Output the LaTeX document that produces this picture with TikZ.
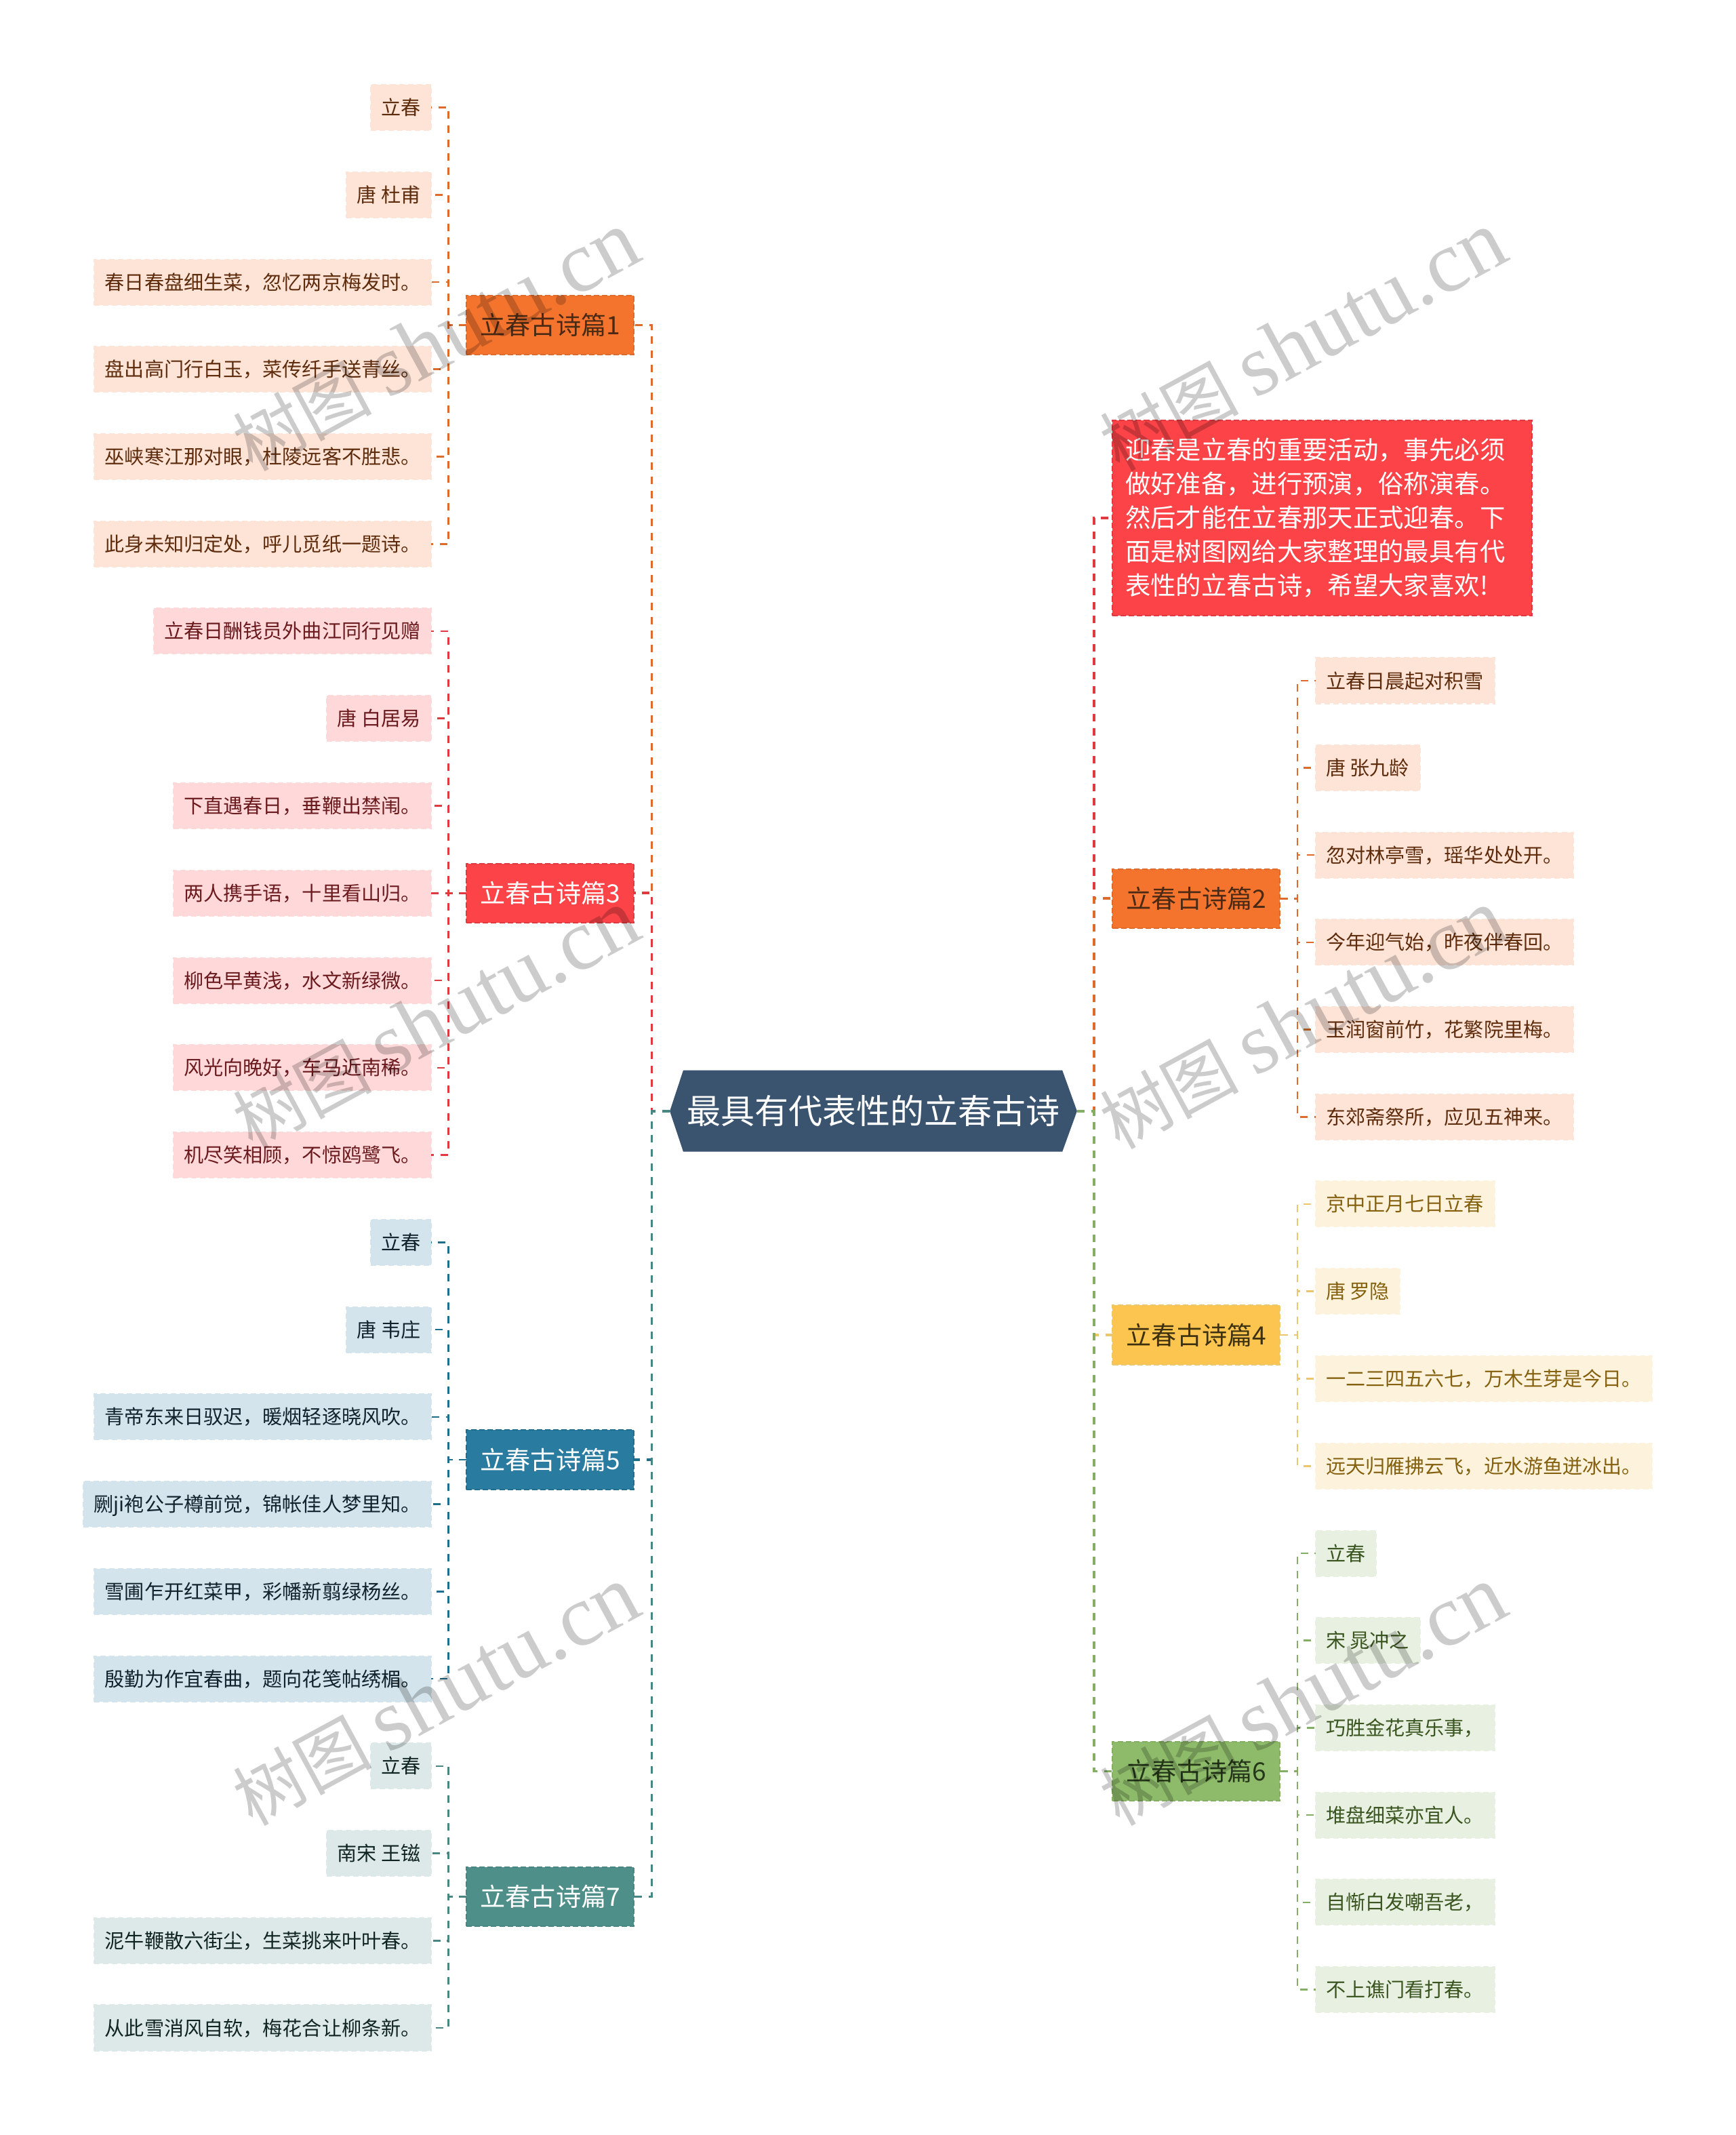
\documentclass[tikz,border=0pt]{standalone}
\usepackage{fontspec}
\setmainfont{Noto Sans CJK SC}
\newfontfamily\wmlatin{Liberation Serif}
\definecolor{oF}{HTML}{F4742E}\definecolor{oD}{HTML}{DE6A2C}\definecolor{oL}{HTML}{FDE4D7}\definecolor{oT}{HTML}{5E2C0C}\definecolor{oB}{HTML}{4A2A14}
\definecolor{rF}{HTML}{FB4348}\definecolor{rD}{HTML}{E03A40}\definecolor{rL}{HTML}{FFD9DA}\definecolor{rT}{HTML}{6B1A1E}
\definecolor{bF}{HTML}{2A7BA0}\definecolor{bD}{HTML}{1F6E8E}\definecolor{bL}{HTML}{D3E4EC}\definecolor{bT}{HTML}{10222C}
\definecolor{tF}{HTML}{4F8F8A}\definecolor{tD}{HTML}{478681}\definecolor{tL}{HTML}{DCE9E8}\definecolor{tT}{HTML}{102422}
\definecolor{yF}{HTML}{FBC54F}\definecolor{yD}{HTML}{EBC66C}\definecolor{yL}{HTML}{FDF3DC}\definecolor{yT}{HTML}{85600F}\definecolor{yB}{HTML}{3E3110}
\definecolor{gF}{HTML}{8DBB6A}\definecolor{gD}{HTML}{84AE64}\definecolor{gL}{HTML}{E8F1E1}\definecolor{gT}{HTML}{3A5520}\definecolor{gB}{HTML}{26361A}
\definecolor{rootF}{HTML}{3A546F}
\tikzset{
 every node/.style={outer sep=0pt},
 leafbox/.style={minimum height=33.4,inner xsep=7.7,inner ysep=0,text height=12.7,text depth=1.7,
   font=\fontsize{14.5}{17}\selectfont,line width=1,dash pattern=on 4 off 2.5},
 lleaf/.style={leafbox,anchor=east},
 rleaf/.style={leafbox,anchor=west},
 leafo/.style={fill=oL,draw=oL,text=oT},
 leafr/.style={fill=rL,draw=rL,text=rT},
 leafb/.style={fill=bL,draw=bL,text=bT},
 leaft/.style={fill=tL,draw=tL,text=tT},
 leafy/.style={fill=yL,draw=yL,text=yT},
 leafg/.style={fill=gL,draw=gL,text=gT},
 branchbox/.style={minimum width=123,minimum height=43.5,inner sep=0,text height=16.2,text depth=2.2,
   font=\fontsize{18.5}{22}\selectfont,line width=1,dash pattern=on 4 off 2},
 main/.style={line width=1.8,dash pattern=on 5.5 off 4.8},
 sub/.style={line width=1.3,dash pattern=on 5.5 off 4.8},
 wmark/.style={rotate=28.5,text=black,text opacity=.2,inner sep=0},
}
\begin{document}
\begin{tikzpicture}[x=1pt,y=-1pt]
\useasboundingbox[fill=white] (0,0) rectangle (1275,1568.3);
% root hexagon
\fill[rootF] (492.1,816.2) -- (502,786.2) -- (780.5,786.2) -- (791.3,816.2) -- (780.5,846) -- (502,846) -- cycle;
\node[minimum width=299.2,minimum height=59.8,inner sep=0,text=white,text height=21.8,text depth=3,font=\fontsize{24.9}{30}\selectfont] (root) at (641.7,816.2) {最具有代表性的立春古诗};
% branches left
\node[branchbox,fill=oF,draw=oD,text=oB] (b1) at (404.3,238.8) {立春古诗篇1};
\node[branchbox,fill=rF,draw=rD,text=white] (b3) at (404.3,656) {立春古诗篇3};
\node[branchbox,fill=bF,draw=bD,text=white] (b5) at (404.3,1072.3) {立春古诗篇5};
\node[branchbox,fill=tF,draw=tD,text=white] (b7) at (404.3,1393.3) {立春古诗篇7};
% branches right
\node[branchbox,fill=oF,draw=oD,text=oB] (b2) at (879,660) {立春古诗篇2};
\node[branchbox,fill=yF,draw=yD,text=yB] (b4) at (879,980.6) {立春古诗篇4};
\node[branchbox,fill=gF,draw=gD,text=gB] (b6) at (879,1301) {立春古诗篇6};
% intro
\node[fill=rF,draw=rD,line width=1,dash pattern=on 4 off 2,text=white,text width=289.2,align=left,inner xsep=9.4,inner ysep=0,minimum height=143,font=\fontsize{18.6}{24.9}\selectfont] (intro) at (971.4,380.5) {迎春是立春的重要活动，事先必须\\做好准备，进行预演，俗称演春。\\然后才能在立春那天正式迎春。下\\面是树图网给大家整理的最具有代\\表性的立春古诗，希望大家喜欢!};
% left leaves
\node[lleaf,leafo] (a1) at (316.8,79) {立春};
\node[lleaf,leafo] (a2) at (316.8,143.1) {唐 杜甫};
\node[lleaf,leafo] (a3) at (316.8,207.2) {春日春盘细生菜，忽忆两京梅发时。};
\node[lleaf,leafo] (a4) at (316.8,271.3) {盘出高门行白玉，菜传纤手送青丝。};
\node[lleaf,leafo] (a5) at (316.8,335.4) {巫峡寒江那对眼，杜陵远客不胜悲。};
\node[lleaf,leafo] (a6) at (316.8,399.6) {此身未知归定处，呼儿觅纸一题诗。};
\node[lleaf,leafr] (c1) at (316.8,463.6) {立春日酬钱员外曲江同行见赠};
\node[lleaf,leafr] (c2) at (316.8,527.8) {唐 白居易};
\node[lleaf,leafr] (c3) at (316.8,591.9) {下直遇春日，垂鞭出禁闱。};
\node[lleaf,leafr] (c4) at (316.8,656) {两人携手语，十里看山归。};
\node[lleaf,leafr] (c5) at (316.8,720.2) {柳色早黄浅，水文新绿微。};
\node[lleaf,leafr] (c6) at (316.8,784.3) {风光向晚好，车马近南稀。};
\node[lleaf,leafr] (c7) at (316.8,848.4) {机尽笑相顾，不惊鸥鹭飞。};
\node[lleaf,leafb] (e1) at (316.8,912.6) {立春};
\node[lleaf,leafb] (e2) at (316.8,976.7) {唐 韦庄};
\node[lleaf,leafb] (e3) at (316.8,1040.8) {青帝东来日驭迟，暖烟轻逐晓风吹。};
\node[lleaf,leafb] (e4) at (316.8,1104.9) {劂ji袍公子樽前觉，锦帐佳人梦里知。};
\node[lleaf,leafb] (e5) at (316.8,1169) {雪圃乍开红菜甲，彩幡新翦绿杨丝。};
\node[lleaf,leafb] (e6) at (316.8,1233.2) {殷勤为作宜春曲，题向花笺帖绣楣。};
\node[lleaf,leaft] (g1) at (316.8,1297.3) {立春};
\node[lleaf,leaft] (g2) at (316.8,1361.4) {南宋 王镃};
\node[lleaf,leaft] (g3) at (316.8,1425.5) {泥牛鞭散六街尘，生菜挑来叶叶春。};
\node[lleaf,leaft] (g4) at (316.8,1489.6) {从此雪消风自软，梅花合让柳条新。};
% right leaves
\node[rleaf,leafo] (d1) at (966.5,500) {立春日晨起对积雪};
\node[rleaf,leafo] (d2) at (966.5,564.1) {唐 张九龄};
\node[rleaf,leafo] (d3) at (966.5,628.1) {忽对林亭雪，瑶华处处开。};
\node[rleaf,leafo] (d4) at (966.5,692.2) {今年迎气始，昨夜伴春回。};
\node[rleaf,leafo] (d5) at (966.5,756.3) {玉润窗前竹，花繁院里梅。};
\node[rleaf,leafo] (d6) at (966.5,820.4) {东郊斋祭所，应见五神来。};
\node[rleaf,leafy] (f1) at (966.5,884.4) {京中正月七日立春};
\node[rleaf,leafy] (f2) at (966.5,948.5) {唐 罗隐};
\node[rleaf,leafy] (f3) at (966.5,1012.8) {一二三四五六七，万木生芽是今日。};
\node[rleaf,leafy] (f4) at (966.5,1076.9) {远天归雁拂云飞，近水游鱼迸冰出。};
\node[rleaf,leafg] (h1) at (966.5,1141) {立春};
\node[rleaf,leafg] (h2) at (966.5,1205.1) {宋 晁冲之};
\node[rleaf,leafg] (h3) at (966.5,1269.2) {巧胜金花真乐事，};
\node[rleaf,leafg] (h4) at (966.5,1333.3) {堆盘细菜亦宜人。};
\node[rleaf,leafg] (h5) at (966.5,1397.4) {自惭白发嘲吾老，};
\node[rleaf,leafg] (h6) at (966.5,1461.5) {不上谯门看打春。};
% main connectors
\draw[main,oD] (root.west) -- ++(-13.2,0) |- (b1.east);
\draw[main,rD] (root.west) -- ++(-13.2,0) |- (b3.east);
\draw[main,bD] (root.west) -- ++(-13.2,0) |- (b5.east);
\draw[main,tD] (root.west) -- ++(-13.2,0) |- (b7.east);
\draw[main,rD] (root.east) -- ++(12.4,0) |- (intro.west);
\draw[main,oD] (root.east) -- ++(12.4,0) |- (b2.west);
\draw[main,yD] (root.east) -- ++(12.4,0) |- (b4.west);
\draw[main,gD] (root.east) -- ++(12.4,0) |- (b6.west);
% leaf connectors
\foreach \n in {a1,a2,a3,a4,a5,a6} \draw[sub,oD] (b1.west) -- ++(-13.3,0) |- (\n.east);
\foreach \n in {c1,c2,c3,c4,c5,c6,c7} \draw[sub,rD] (b3.west) -- ++(-13.3,0) |- (\n.east);
\foreach \n in {e1,e2,e3,e4,e5,e6} \draw[sub,bD] (b5.west) -- ++(-13.3,0) |- (\n.east);
\foreach \n in {g1,g2,g3,g4} \draw[sub,tD] (b7.west) -- ++(-13.3,0) |- (\n.east);
\foreach \n in {d1,d2,d3,d4,d5,d6} \draw[sub,oD] (b2.east) -- ++(12.7,0) |- (\n.west);
\foreach \n in {f1,f2,f3,f4} \draw[sub,yD] (b4.east) -- ++(12.7,0) |- (\n.west);
\foreach \n in {h1,h2,h3,h4,h5,h6} \draw[sub,gD] (b6.east) -- ++(12.7,0) |- (\n.west);
% watermarks
\foreach \i/\x/\y in {1/320/251,2/957/251,3/320/749,4/957/749,5/320/1246,6/957/1246}
  \node[wmark] (w\i) at (\x,\y) {\fontsize{51}{60}\selectfont 树图 {\wmlatin\fontsize{64}{60}\selectfont shutu.cn}};
\end{tikzpicture}
\end{document}
